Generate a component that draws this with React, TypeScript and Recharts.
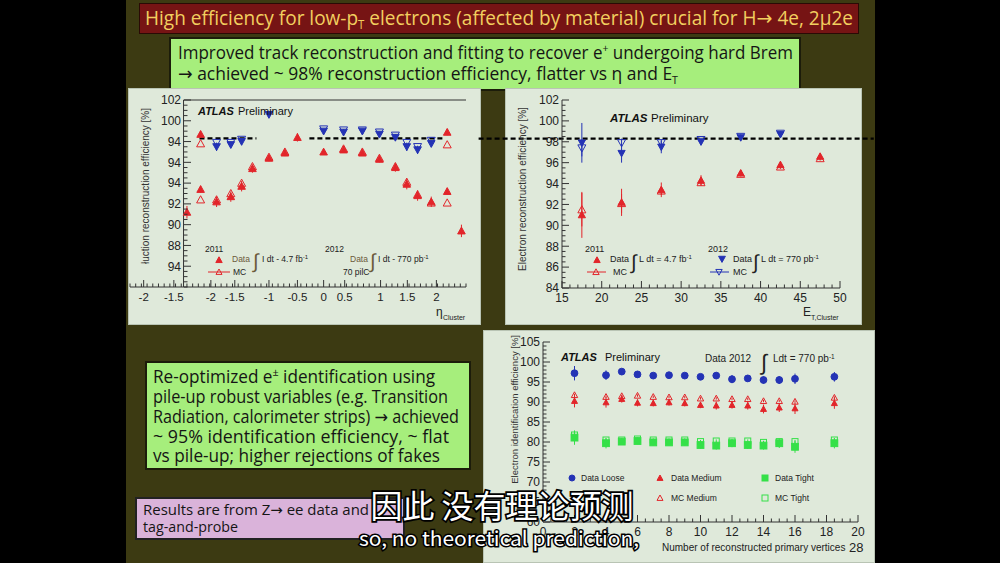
import React from 'react'
import { ScatterChart, Scatter, XAxis, YAxis, ErrorBar, ReferenceLine } from 'recharts'

const RED = '#e2252a'
const BLUE = '#2433b5'
const GREEN = '#35e048'
const AX = '#333'
const CHART_FONT = '"Liberation Sans", Arial, sans-serif'
const SLIDE_FONT = '"Open Sans", "Noto Sans", sans-serif'
const ARROW_FONT = '"DejaVu Sans", sans-serif'

// ---- top left: reconstruction efficiency vs eta (tick labels garbled in the picture, kept as shown)
const ETA_X_TICKS = [-3.16, -2.63, -1.98, -1.56, -0.96, -0.46, 0, 0.37, 1, 1.47, 1.98]
const ETA_X_LABELS = ['-2', '-1.5', '-2', '-1.5', '-1', '-0.5', '0', '0.5', '1', '1.5', '2']
const ETA_Y_TICKS = [86, 88, 90, 92, 94, 96, 98, 100, 102]
const ETA_Y_LABELS = ['94', '88', '90', '92', '94', '94', '94', '100', '102']
const ETA_YAXIS_AT = -2.46
const ETA_DASH_Y = 98.3
const ETA_DASH_SEGS = [[-2.18, -1.18], [-0.25, 2.09]]

const ETA_D11_X = [-2.4, -2.16, -2.16, -1.88, -1.63, -1.44, -1.25, -0.96, -0.68, -0.46, 0, 0.35, 0.68, 0.98, 1.26, 1.46, 1.65, 1.89, 2.17, 2.17, 2.42]
const ETA_D11_Y = [91.2, 98.7, 93.4, 92.2, 92.7, 93.7, 95.4, 96.4, 96.9, 98.4, 97.0, 97.2, 96.9, 96.3, 95.5, 93.9, 92.8, 92.2, 93.2, 98.9, 89.4]
const ETA_D11_E = [0.6, 0.3, 0.3, 0.5, 0.5, 0.5, 0.4, 0.3, 0.3, 0.4, 0.2, 0.2, 0.2, 0.3, 0.4, 0.5, 0.5, 0.5, 0.3, 0.3, 0.6]
const ETA_MC11_X = [-2.16, -2.16, -1.88, -1.63, -1.44, -1.25, -0.96, -0.68, 0.35, 0.68, 0.98, 1.26, 1.46, 1.65, 1.89, 2.17, 2.17]
const ETA_MC11_Y = [97.8, 92.4, 92.4, 93.0, 94.0, 95.6, 96.5, 97.0, 97.3, 97.0, 96.4, 95.6, 94.1, 92.9, 92.1, 97.7, 92.1]
const ETA_D12_X = [-1.88, -1.63, -1.44, -0.96, 0, 0.35, 0.68, 0.98, 1.26, 1.46, 1.65, 1.89]
const ETA_D12_Y = [97.5, 97.7, 98.0, 100.6, 99.0, 98.9, 99.0, 98.7, 98.4, 97.5, 97.2, 97.8]
const ETA_D12_E = [0.4, 0.3, 0.3, 0.2, 0.2, 0.3, 0.2, 0.2, 0.3, 0.4, 0.4, 0.3]
const ETA_MC12_X = [-1.88, -1.63, -1.44, 0, 0.35, 0.68, 0.98, 1.26, 1.46, 1.65, 1.89]
const ETA_MC12_Y = [97.9, 97.9, 98.2, 99.2, 99.1, 99.1, 98.9, 98.6, 97.9, 97.5, 98.1]

// ---- top right: reconstruction efficiency vs E_T
const ET_X_TICKS = [15, 20, 25, 30, 35, 40, 45, 50]
const ET_Y_TICKS = [84, 86, 88, 90, 92, 94, 96, 98, 100, 102]
const ET_BINS = [17.5, 22.5, 27.5, 32.5, 37.5, 42.5, 47.5]
const ET_D11_Y = [91.0, 92.2, 93.4, 94.3, 95.0, 95.8, 96.6]
const ET_D11_E = [2.2, 1.3, 0.7, 0.5, 0.3, 0.3, 0.3]
const ET_MC11_Y = [91.5, 92.1, 93.3, 94.1, 94.9, 95.6, 96.4]
const ET_MC11_E = [1.6, 0.9, 0.4, 0.3, 0.2, 0.2, 0.2]
const ET_D12_Y = [97.9, 96.9, 97.5, 98.0, 98.4, 98.7]
const ET_D12_E = [1.9, 0.9, 0.6, 0.3, 0.2, 0.2]
const ET_MC12_Y = [97.4, 97.9, 97.9, 98.2, 98.5, 98.8]
const ET_MC12_E = [0.8, 0.4, 0.3, 0.2, 0.2, 0.2]
const ET_DASH_Y = 98.3
const ET_DASH_FROM = 4.5
const ET_DASH_TO = 54.25

// ---- bottom right: identification efficiency vs number of vertices
const NV_X_TICKS = [0, 2, 4, 6, 8, 10, 12, 14, 16, 18, 20]
const NV_Y_TICKS = [60, 65, 70, 75, 80, 85, 90, 95, 100, 105]
const NV_X = [2, 4, 5, 6, 7, 8, 9, 10, 11, 12, 13, 14, 15, 16, 18.5]
const LOOSE_Y = [97.2, 96.7, 97.6, 96.9, 96.6, 96.7, 96.6, 96.3, 96.6, 95.7, 95.9, 95.5, 95.5, 95.8, 96.3]
const LOOSE_E = [1.8, 1.2, 0.7, 0.8, 0.6, 0.6, 0.6, 0.6, 0.8, 1.0, 0.8, 0.9, 1.0, 1.3, 1.2]
const MEDIUM_Y = [90.25, 89.9, 90.75, 89.8, 89.7, 89.9, 89.7, 89.25, 89.1, 89.25, 89.1, 88.25, 88.6, 88.4, 89.7]
const MEDIUM_E = [1.6, 1.3, 0.9, 0.9, 0.8, 0.8, 0.8, 0.8, 1.0, 0.9, 1.0, 1.1, 1.1, 1.4, 1.4]
const MC_MEDIUM_Y = [91.75, 91.3, 91.5, 91.6, 91.3, 91.2, 91.2, 90.9, 90.9, 90.75, 90.75, 90.25, 90.25, 90.1, 91.1]
const TIGHT_Y = [81.1, 79.7, 80.1, 80.25, 79.9, 79.9, 79.9, 79.25, 79.1, 79.7, 79.25, 79.1, 79.7, 78.8, 79.7]
const TIGHT_E = [1.8, 1.3, 0.8, 0.8, 0.8, 0.8, 0.8, 0.9, 1.0, 1.0, 1.0, 1.0, 1.2, 1.5, 1.3]
const MC_TIGHT_Y = [81.75, 80.5, 80.5, 80.75, 80.5, 80.5, 80.5, 80.1, 80.25, 80.25, 80.25, 79.9, 80.1, 80.1, 80.5]

type Pt = { x: number; y: number; e: number }
function pts(xs: number[], ys: number[], es: number[] | number = 0): Pt[] {
  return ys.map((y, i) => ({ x: xs[i], y, e: Array.isArray(es) ? es[i] : es }))
}

// minor tick grid merged with the labelled ticks
function grid(a: number, b: number, s: number, major: number[]) {
  const out: number[] = []
  for (let i = 0; a + i * s <= b + 1e-9; i++) out.push(+(a + i * s).toFixed(3))
  return Array.from(new Set([...out, ...major])).sort((p, q) => p - q)
}

function Mark({ cx, cy, kind, color, r = 3.4 }: any) {
  if (cx == null || cy == null) return null
  const hollow = kind.endsWith('O')
  const k = hollow ? kind.slice(0, -1) : kind
  const fill = hollow ? 'none' : color
  if (k === 'up')
    return <path d={`M${cx},${cy - r} L${cx + r},${cy + r * 0.8} L${cx - r},${cy + r * 0.8} Z`} fill={fill} stroke={color} strokeWidth={1} />
  if (k === 'down')
    return <path d={`M${cx},${cy + r} L${cx + r},${cy - r * 0.8} L${cx - r},${cy - r * 0.8} Z`} fill={fill} stroke={color} strokeWidth={1} />
  if (k === 'dot') return <circle cx={cx} cy={cy} r={r} fill={fill} stroke={color} />
  return <rect x={cx - r} y={cy - r} width={2 * r} height={2 * r} fill={fill} stroke={color} strokeWidth={1} />
}

function AxTick(p: any) {
  const { x, y, payload, side, pos = [], labels, shift = 0, fs = 10, from = -Infinity } = p
  const v = payload.value
  if (v < from) return <g />
  const li = pos.findIndex((t: number) => Math.abs(t - v) < 1e-6)
  const len = li >= 0 ? 7 : 3.5
  const lab = labels && li >= 0 ? labels[li] : null
  const txt = { fontSize: fs, fill: '#222', fontFamily: CHART_FONT }
  if (side === 'bottom')
    return (
      <g>
        <line x1={x} y1={y} x2={x} y2={y - len} stroke={AX} />
        {lab && <text x={x} y={y + fs + 2} textAnchor="middle" style={txt}>{lab}</text>}
      </g>
    )
  if (side === 'top') return <line x1={x} y1={y} x2={x} y2={y + len} stroke={AX} />
  if (side === 'right') return <line x1={x} y1={y} x2={x - len} y2={y} stroke={AX} />
  return (
    <g>
      <line x1={x + shift} y1={y} x2={x + shift + len} y2={y} stroke={AX} />
      {lab && <text x={x + shift - 3} y={y + fs * 0.36} textAnchor="end" style={txt}>{lab}</text>}
    </g>
  )
}

function series(data: Pt[], kind: string, color: string, r?: number) {
  return (
    <Scatter data={data} isAnimationActive={false} shape={(s: any) => <Mark cx={s.cx} cy={s.cy} kind={kind} color={color} r={r} />}>
      <ErrorBar dataKey="e" direction="y" width={0} stroke={color} strokeWidth={1} />
    </Scatter>
  )
}

const tickOff = { tickSize: 0, tickMargin: 0, tickLine: false, interval: 0 as const }

function EtaChart() {
  const xs = grid(-3.4, 2.5, 0.1, ETA_X_TICKS)
  const ys = grid(84, 102, 0.5, ETA_Y_TICKS)
  return (
    <ScatterChart width={353} height={237} margin={{ top: 12, right: 15, bottom: 0, left: 0 }}>
      <XAxis type="number" dataKey="x" domain={[-3.4, 2.5]} ticks={xs} height={38} stroke={AX} {...tickOff}
        tick={(t: any) => <AxTick {...t} side="bottom" pos={ETA_X_TICKS} labels={ETA_X_LABELS} fs={11.5} />} />
      <XAxis xAxisId="t" orientation="top" type="number" domain={[-3.4, 2.5]} ticks={xs} height={0} axisLine={false} {...tickOff}
        tick={(t: any) => <AxTick {...t} side="top" pos={ETA_X_TICKS} from={ETA_YAXIS_AT} />} />
      <YAxis type="number" dataKey="y" domain={[84, 102]} ticks={ys} width={2} axisLine={false} {...tickOff}
        tick={(t: any) => <AxTick {...t} side="left" shift={54} pos={ETA_Y_TICKS} labels={ETA_Y_LABELS} fs={12} />} />
      <YAxis yAxisId="r" orientation="right" type="number" domain={[84, 102]} ticks={ys} width={0} stroke={AX} {...tickOff}
        tick={(t: any) => <AxTick {...t} side="right" pos={ETA_Y_TICKS} />} />
      <ReferenceLine x={ETA_YAXIS_AT} stroke={AX} />
      <ReferenceLine segment={[{ x: ETA_YAXIS_AT, y: 102 }, { x: 2.5, y: 102 }]} stroke={AX} />
      {ETA_DASH_SEGS.map(([a, b], i) => (
        <ReferenceLine key={i} segment={[{ x: a, y: ETA_DASH_Y }, { x: b, y: ETA_DASH_Y }]} stroke="#000" strokeWidth={2.2} strokeDasharray="5 3" />
      ))}
      {series(pts(ETA_MC11_X, ETA_MC11_Y), 'upO', RED, 4)}
      {series(pts(ETA_D11_X, ETA_D11_Y, ETA_D11_E), 'up', RED, 3.8)}
      {series(pts(ETA_MC12_X, ETA_MC12_Y), 'downO', BLUE, 4)}
      {series(pts(ETA_D12_X, ETA_D12_Y, ETA_D12_E), 'down', BLUE, 3.8)}
    </ScatterChart>
  )
}

function EtChart() {
  const xs = grid(15, 50, 1, ET_X_TICKS)
  const ys = grid(84, 102, 0.5, ET_Y_TICKS)
  const labs = ET_Y_TICKS.map(String)
  return (
    <ScatterChart width={357} height={237} margin={{ top: 12, right: 22, bottom: 0, left: 0 }}>
      <XAxis type="number" dataKey="x" domain={[15, 50]} ticks={xs} height={37} stroke={AX} {...tickOff}
        tick={(t: any) => <AxTick {...t} side="bottom" pos={ET_X_TICKS} labels={ET_X_TICKS.map(String)} fs={12} />} />
      <XAxis xAxisId="t" orientation="top" type="number" domain={[15, 50]} ticks={xs} height={0} stroke={AX} {...tickOff}
        tick={(t: any) => <AxTick {...t} side="top" pos={ET_X_TICKS} />} />
      <YAxis type="number" dataKey="y" domain={[84, 102]} ticks={ys} width={57} stroke={AX} {...tickOff}
        tick={(t: any) => <AxTick {...t} side="left" pos={ET_Y_TICKS} labels={labs} fs={12} />} />
      <YAxis yAxisId="r" orientation="right" type="number" domain={[84, 102]} ticks={ys} width={0} stroke={AX} {...tickOff}
        tick={(t: any) => <AxTick {...t} side="right" pos={ET_Y_TICKS} />} />
      <ReferenceLine segment={[{ x: ET_DASH_FROM, y: ET_DASH_Y }, { x: ET_DASH_TO, y: ET_DASH_Y }]} ifOverflow="visible" stroke="#000" strokeWidth={2.2} strokeDasharray="5 3" />
      {series(pts(ET_BINS, ET_MC11_Y, ET_MC11_E), 'upO', RED, 4)}
      {series(pts(ET_BINS, ET_D11_Y, ET_D11_E), 'up', RED, 3.6)}
      {series(pts(ET_BINS, ET_MC12_Y, ET_MC12_E), 'downO', BLUE, 4)}
      {series(pts(ET_BINS, ET_D12_Y, ET_D12_E), 'down', BLUE, 3.6)}
    </ScatterChart>
  )
}

function NvChart() {
  const xs = grid(0, 20, 0.5, NV_X_TICKS)
  const ys = grid(60, 105, 1, NV_Y_TICKS)
  return (
    <ScatterChart width={392} height={233} margin={{ top: 12, right: 17, bottom: 0, left: 0 }}>
      <XAxis type="number" dataKey="x" domain={[0, 20]} ticks={xs} height={41} stroke={AX} {...tickOff}
        tick={(t: any) => <AxTick {...t} side="bottom" pos={NV_X_TICKS} labels={NV_X_TICKS.map(String)} fs={12} />} />
      <XAxis xAxisId="t" orientation="top" type="number" domain={[0, 20]} ticks={xs} height={0} stroke={AX} {...tickOff}
        tick={(t: any) => <AxTick {...t} side="top" pos={NV_X_TICKS} />} />
      <YAxis type="number" dataKey="y" domain={[60, 105]} ticks={ys} width={60} stroke={AX} {...tickOff}
        tick={(t: any) => <AxTick {...t} side="left" pos={NV_Y_TICKS} labels={NV_Y_TICKS.map(String)} fs={12} />} />
      <YAxis yAxisId="r" orientation="right" type="number" domain={[60, 105]} ticks={ys} width={0} stroke={AX} {...tickOff}
        tick={(t: any) => <AxTick {...t} side="right" pos={NV_Y_TICKS} />} />
      {series(pts(NV_X, LOOSE_Y, LOOSE_E), 'dot', BLUE, 3.4)}
      {series(pts(NV_X, MC_MEDIUM_Y, 0.3), 'upO', RED, 3.2)}
      {series(pts(NV_X, MEDIUM_Y, MEDIUM_E), 'up', RED, 3)}
      {series(pts(NV_X, MC_TIGHT_Y, 0.4), 'sqO', GREEN, 3)}
      {series(pts(NV_X, TIGHT_Y, TIGHT_E), 'sq', GREEN, 3.4)}
    </ScatterChart>
  )
}

const box = (l: number, t: number, w: number, h: number, bg: string, border = 'none'): React.CSSProperties => ({
  position: 'absolute', left: l, top: t, width: w, height: h, background: bg, border, boxSizing: 'border-box',
})

function Txt({ x, y, fs = 9, children, bold, italic, anchor, len, fill = '#222', font = CHART_FONT }: any) {
  return (
    <text x={x} y={y} fontSize={fs} fontFamily={font} fill={fill} textAnchor={anchor}
      fontWeight={bold ? 'bold' : 'normal'} fontStyle={italic ? 'italic' : 'normal'}
      textLength={len} lengthAdjust={len ? 'spacingAndGlyphs' : undefined}>
      {children}
    </text>
  )
}

const Arrow = () => <tspan fontFamily={ARROW_FONT}>→</tspan>

function Overlay() {
  const sf = SLIDE_FONT
  const ink = '#151515'
  const sub = { stroke: '#000', strokeWidth: 3.5, paintOrder: 'stroke' as const, fill: '#fff' }
  return (
    <svg width={1000} height={563} style={{ position: 'absolute', left: 0, top: 0, pointerEvents: 'none' }}>
      {/* slide texts */}
      <Txt x={145} y={25} fs={20} fill="#f2cf5f" font={sf} len={708}>
        High efficiency for low-p<tspan dy={4} fontSize={12}>T</tspan><tspan dy={-4}> electrons (affected by material) crucial for H</tspan><Arrow /> 4e, 2μ2e
      </Txt>
      <Txt x={178} y={59} fs={18} fill={ink} font={sf} len={615}>
        Improved track reconstruction and fitting to recover e<tspan dy={-7} fontSize={11}>+</tspan><tspan dy={7}> undergoing hard Brem</tspan>
      </Txt>
      <Txt x={178} y={80} fs={18} fill={ink} font={sf} len={500}>
        <Arrow /> achieved ~ 98% reconstruction efficiency, flatter vs η and E<tspan dy={4} fontSize={11}>T</tspan>
      </Txt>
      <Txt x={153} y={383} fs={17.5} fill={ink} font={sf} len={282}>
        Re-optimized e<tspan dy={-7} fontSize={11}>±</tspan><tspan dy={7}> identification using</tspan>
      </Txt>
      <Txt x={153} y={403} fs={17.5} fill={ink} font={sf} len={295}>pile-up robust variables (e.g. Transition</Txt>
      <Txt x={153} y={423} fs={17.5} fill={ink} font={sf} len={306}>Radiation, calorimeter strips) <Arrow /> achieved</Txt>
      <Txt x={153} y={443} fs={17.5} fill={ink} font={sf} len={296}>~ 95% identification efficiency, ~ flat</Txt>
      <Txt x={153} y={462} fs={17.5} fill={ink} font={sf} len={287}>vs pile-up; higher rejections of fakes</Txt>
      <Txt x={143} y={515} fs={14.5} fill={ink} font={sf} len={226}>Results are from Z<Arrow /> ee data and</Txt>
      <Txt x={143} y={532} fs={14.5} fill={ink} font={sf} len={95}>tag-and-probe</Txt>

      {/* eta chart labels */}
      <Txt x={198} y={115} fs={11} bold italic fill="#111">ATLAS</Txt>
      <Txt x={238} y={115} fs={11} fill="#111">Preliminary</Txt>
      <g transform="translate(149,186) rotate(-90)"><Txt x={0} y={0} fs={10} anchor="middle" fill="#333">łuction reconstruction efficiency [%]</Txt></g>
      <Txt x={436} y={316} fs={12} fill="#222">η</Txt>
      <Txt x={443} y={320} fs={7} fill="#222">Cluster</Txt>
      <Txt x={205} y={252} fs={8.5}>2011</Txt>
      <Mark cx={219} cy={260} kind="up" color={RED} r={3.2} />
      <Txt x={232} y={262} fs={8.5} fill="#6b5a3a">Data</Txt>
      <Txt x={253} y={268} fs={20} fill="#6b5a3a">∫</Txt>
      <Txt x={262} y={262} fs={8.5}>I dt - 4.7 fb<tspan dy={-3} fontSize={6}>-1</tspan></Txt>
      <line x1={208} y1={272} x2={230} y2={272} stroke={RED} />
      <Mark cx={219} cy={272} kind="upO" color={RED} r={3} />
      <Txt x={233} y={275} fs={8.5}>MC</Txt>
      <Txt x={325} y={252} fs={8.5}>2012</Txt>
      <Txt x={350} y={262} fs={8.5} fill="#6b5a3a">Data</Txt>
      <Txt x={370} y={268} fs={20} fill="#6b5a3a">∫</Txt>
      <Txt x={378} y={262} fs={8.5}>I dt - 770 pb<tspan dy={-3} fontSize={6}>-1</tspan></Txt>
      <Txt x={343} y={275} fs={8.5}>70 pilC</Txt>

      {/* E_T chart labels */}
      <Txt x={610} y={122} fs={11.5} bold italic fill="#111">ATLAS</Txt>
      <Txt x={651} y={122} fs={11.5} fill="#111">Preliminary</Txt>
      <g transform="translate(526,189) rotate(-90)"><Txt x={0} y={0} fs={10} anchor="middle" fill="#333">Electron reconstruction efficiency [%]</Txt></g>
      <Txt x={803} y={316} fs={12} fill="#222">E</Txt>
      <Txt x={811} y={320} fs={7} fill="#222">T,Cluster</Txt>
      <Txt x={585} y={252} fs={9}>2011</Txt>
      <Mark cx={597} cy={260} kind="up" color={RED} r={3.2} />
      <Txt x={610} y={262} fs={9}>Data</Txt>
      <Txt x={631} y={269} fs={20}>∫</Txt>
      <Txt x={639} y={262} fs={9}>L dt = 4.7 fb<tspan dy={-3} fontSize={6}>-1</tspan></Txt>
      <line x1={587} y1={272} x2={606} y2={272} stroke={RED} />
      <Mark cx={596} cy={272} kind="upO" color={RED} r={3.2} />
      <Txt x={613} y={275} fs={9}>MC</Txt>
      <Txt x={708} y={252} fs={9}>2012</Txt>
      <Mark cx={722} cy={259} kind="down" color={BLUE} r={3.4} />
      <Txt x={733} y={262} fs={9}>Data</Txt>
      <Txt x={753} y={269} fs={20}>∫</Txt>
      <Txt x={761} y={262} fs={9}>L dt = 770 pb<tspan dy={-3} fontSize={6}>-1</tspan></Txt>
      <line x1={710} y1={272} x2={729} y2={272} stroke={BLUE} />
      <Mark cx={719} cy={272} kind="downO" color={BLUE} r={3.2} />
      <Txt x={733} y={275} fs={9}>MC</Txt>

      {/* vertices chart labels */}
      <Txt x={561} y={361} fs={11} bold italic fill="#111">ATLAS</Txt>
      <Txt x={605} y={361} fs={11} fill="#111">Preliminary</Txt>
      <Txt x={705} y={362} fs={10}>Data 2012</Txt>
      <Txt x={761} y={370} fs={22}>∫</Txt>
      <Txt x={773} y={362} fs={10}>Ldt = 770 pb<tspan dy={-3} fontSize={6.5}>-1</tspan></Txt>
      <g transform="translate(518,335) rotate(-90)"><Txt x={0} y={0} fs={9.5} anchor="end" fill="#333">Electron identification efficiency [%]</Txt></g>
      <Txt x={662} y={551} fs={10} fill="#222">Number of reconstructed primary vertices</Txt>
      <Txt x={849} y={552} fs={13} fill="#222">28</Txt>
      <Mark cx={572} cy={478} kind="dot" color={BLUE} r={3} />
      <Txt x={581} y={481} fs={8.5}>Data Loose</Txt>
      <Mark cx={660} cy={478} kind="up" color={RED} r={3} />
      <Txt x={671} y={481} fs={8.5}>Data Medium</Txt>
      <Mark cx={765} cy={478} kind="sq" color={GREEN} r={3} />
      <Txt x={775} y={481} fs={8.5}>Data Tight</Txt>
      <Mark cx={660} cy={498} kind="upO" color={RED} r={3} />
      <Txt x={671} y={501} fs={8.5}>MC Medium</Txt>
      <Mark cx={765} cy={498} kind="sqO" color={GREEN} r={3} />
      <Txt x={775} y={501} fs={8.5}>MC Tight</Txt>

      {/* video subtitles */}
      <text x={502} y={518} fontSize={32} textAnchor="middle" fontFamily='"Noto Sans CJK SC", sans-serif' {...sub}>因此 没有理论预测</text>
      <text x={499} y={546} fontSize={20} textAnchor="middle" fontFamily='"Noto Sans CJK SC", sans-serif' {...sub} strokeWidth={3} textLength={280} lengthAdjust="spacingAndGlyphs">so, no theoretical prediction,</text>
    </svg>
  )
}

export default function App() {
  const panel = '#dfe9da'
  const edge = '1px solid #b9c4b4'
  return (
    <div style={{ position: 'absolute', left: 0, top: 0, width: 1000, height: 563, background: '#000', overflow: 'hidden' }}>
      <style>{'.recharts-surface{overflow:visible}'}</style>
      <div style={box(126, 0, 749, 563, '#3c3a12')} />
      <div style={box(139, 3, 720, 31, '#761414', '1px solid #2a0a05')} />
      <div style={box(169, 37, 632, 54, '#a6ee7c', '2px solid #1c1c0a')} />
      <div style={box(145, 361, 326, 109, '#a6ee7c', '2px solid #1c1c0a')} />
      <div style={box(135, 497, 270, 43, '#dab3da', '2px solid #222')} />
      <div style={box(128, 88, 353, 237, panel, edge)}>
        <div style={{ position: 'absolute', left: -1, top: -1 }}><EtaChart /></div>
      </div>
      <div style={box(505, 88, 357, 237, panel, edge)}>
        <div style={{ position: 'absolute', left: -1, top: -1 }}><EtChart /></div>
      </div>
      <div style={box(483, 330, 392, 233, panel, edge)}>
        <div style={{ position: 'absolute', left: -1, top: -1 }}><NvChart /></div>
      </div>
      <Overlay />
    </div>
  )
}
